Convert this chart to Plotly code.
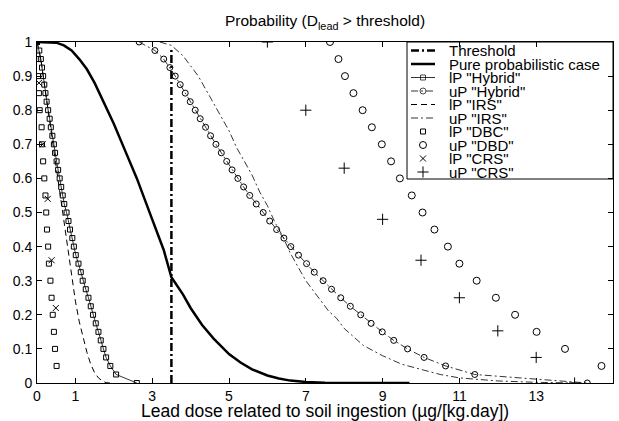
import plotly.graph_objects as go

# ---------------- data ----------------
threshold_x = [3.5, 3.5]
threshold_y = [0.0, 0.98]

pure_x = [0.0, 0.3, 0.5, 0.7, 0.9, 1.1, 1.3, 1.5, 1.8, 2.0, 2.3, 2.6, 3.0, 3.3, 3.5, 3.8, 4.0, 4.3, 4.6, 5.0, 5.3, 5.6, 6.0, 6.3, 6.6, 7.0, 7.5, 8.0, 9.0, 9.7]
pure_y = [1.0, 1.0, 0.998, 0.99, 0.975, 0.95, 0.92, 0.88, 0.81, 0.76, 0.68, 0.60, 0.48, 0.39, 0.31, 0.26, 0.22, 0.17, 0.13, 0.085, 0.06, 0.04, 0.022, 0.013, 0.007, 0.003, 0.001, 0.0005, 0.0, 0.0]

lp_hybrid_x = [0.00, 0.06, 0.10, 0.13, 0.16, 0.19, 0.22, 0.25, 0.29, 0.33, 0.36, 0.40, 0.44, 0.47, 0.51, 0.55, 0.59, 0.63, 0.67, 0.71, 0.77, 0.82, 0.86, 0.92, 0.96, 1.01, 1.08, 1.14, 1.19, 1.27, 1.34, 1.40, 1.46, 1.53, 1.60, 1.66, 1.73, 1.80, 1.91, 2.06, 2.60]
lp_hybrid_y = [1.000, 0.975, 0.950, 0.925, 0.900, 0.875, 0.850, 0.825, 0.800, 0.775, 0.750, 0.725, 0.700, 0.675, 0.650, 0.625, 0.600, 0.575, 0.550, 0.525, 0.500, 0.475, 0.450, 0.425, 0.400, 0.375, 0.350, 0.325, 0.300, 0.275, 0.250, 0.225, 0.200, 0.175, 0.150, 0.125, 0.100, 0.075, 0.050, 0.025, 0.000]

up_hybrid_x = [2.66, 3.07, 3.30, 3.46, 3.60, 3.73, 3.86, 3.99, 4.12, 4.25, 4.39, 4.52, 4.66, 4.80, 4.94, 5.08, 5.23, 5.38, 5.54, 5.71, 5.89, 6.06, 6.24, 6.43, 6.61, 6.81, 7.02, 7.22, 7.45, 7.67, 7.91, 8.16, 8.43, 8.70, 8.99, 9.29, 9.65, 10.08, 10.64, 11.40, 14.33]
up_hybrid_y = [1.000, 0.975, 0.950, 0.925, 0.900, 0.875, 0.850, 0.825, 0.800, 0.775, 0.750, 0.725, 0.700, 0.675, 0.650, 0.625, 0.600, 0.575, 0.550, 0.525, 0.500, 0.475, 0.450, 0.425, 0.400, 0.375, 0.350, 0.325, 0.300, 0.275, 0.250, 0.225, 0.200, 0.175, 0.150, 0.125, 0.100, 0.075, 0.050, 0.025, 0.000]

lp_irs_x = [0.0, 0.1, 0.2, 0.3, 0.4, 0.5, 0.6, 0.7, 0.8, 0.9, 1.0, 1.1, 1.2, 1.3, 1.4, 1.5, 1.6, 1.7, 1.8, 1.9]
lp_irs_y = [1.0, 0.95, 0.87, 0.79, 0.71, 0.63, 0.56, 0.48, 0.39, 0.31, 0.24, 0.18, 0.13, 0.09, 0.055, 0.03, 0.015, 0.006, 0.001, 0.0]

up_irs_x = [3.2, 3.5, 3.8, 4.0, 4.2, 4.4, 4.6, 4.8, 5.0, 5.2, 5.4, 5.6, 5.8, 6.0, 6.2, 6.4, 6.6, 6.8, 7.0, 7.2, 7.4, 7.6, 7.8, 8.0, 8.5, 9.0, 9.5, 10.0, 10.5, 11.0, 12.0, 13.0, 14.0]
up_irs_y = [1.0, 0.99, 0.96, 0.93, 0.90, 0.86, 0.82, 0.78, 0.74, 0.69, 0.65, 0.61, 0.56, 0.52, 0.47, 0.43, 0.38, 0.34, 0.30, 0.27, 0.24, 0.21, 0.19, 0.16, 0.11, 0.08, 0.055, 0.04, 0.025, 0.015, 0.006, 0.002, 0.0]

lp_dbc_x = [0.00, 0.02, 0.03, 0.05, 0.07, 0.12, 0.13, 0.16, 0.19, 0.22, 0.24, 0.26, 0.29, 0.31, 0.35, 0.38, 0.41, 0.44, 0.47, 0.51]
lp_dbc_y = [1.00, 0.95, 0.90, 0.85, 0.80, 0.75, 0.70, 0.65, 0.60, 0.55, 0.50, 0.45, 0.40, 0.35, 0.30, 0.25, 0.20, 0.15, 0.10, 0.05]

up_dbd_x = [7.63, 7.85, 8.02, 8.24, 8.48, 8.72, 8.98, 9.22, 9.45, 9.76, 10.04, 10.35, 10.70, 11.00, 11.45, 11.95, 12.45, 13.01, 13.75, 14.70]
up_dbd_y = [1.00, 0.95, 0.90, 0.85, 0.80, 0.75, 0.70, 0.65, 0.60, 0.55, 0.50, 0.45, 0.40, 0.35, 0.30, 0.25, 0.20, 0.15, 0.10, 0.05]

lp_crs_x = [0.00, 0.05, 0.15, 0.28, 0.38, 0.49]
lp_crs_y = [1.00, 0.88, 0.70, 0.54, 0.36, 0.22]

up_crs_x = [6.0, 7.0, 8.0, 9.0, 10.0, 11.0, 12.0, 13.0, 14.0]
up_crs_y = [1.0, 0.80, 0.63, 0.48, 0.36, 0.25, 0.153, 0.075, 0.0]

x_ticks = [0, 1, 3, 5, 7, 9, 11, 13, 15]
y_ticks = [0, 0.1, 0.2, 0.3, 0.4, 0.5, 0.6, 0.7, 0.8, 0.9, 1]

legend_names = ['Threshold', 'Pure probabilistic case', 'lP "Hybrid"', 'uP "Hybrid"',
                'lP "IRS"', 'uP "IRS"', 'lP "DBC"', 'uP "DBD"', 'lP "CRS"', 'uP "CRS"']

title_text = 'Probability (D<sub>lead</sub> > threshold)'
xlabel_text = 'Lead dose related to soil ingestion (µg/[kg.day])'

# ---------------- styles ----------------
K = 'black'
FONT = 'Liberation Sans, Arial, sans-serif'
DASHDOT = '7px,3px,2px,3px'
styles = [
    dict(mode='lines', line=dict(color=K, width=2.5, dash='8px,3px,2px,3px')),
    dict(mode='lines', line=dict(color=K, width=2.5)),
    dict(mode='lines+markers', line=dict(color=K, width=0.8),
         marker=dict(symbol='square-open', size=5, color=K, line=dict(width=1))),
    dict(mode='lines+markers', line=dict(color=K, width=0.8, dash=DASHDOT),
         marker=dict(symbol='circle-open', size=6, color=K, line=dict(width=1))),
    dict(mode='lines', line=dict(color=K, width=1, dash='6px,4px')),
    dict(mode='lines', line=dict(color=K, width=0.8, dash=DASHDOT)),
    dict(mode='markers', marker=dict(symbol='square-open', size=5, color=K, line=dict(width=1))),
    dict(mode='markers', marker=dict(symbol='circle-open', size=7, color=K, line=dict(width=1))),
    dict(mode='markers', marker=dict(symbol='x-thin-open', size=6, color=K, line=dict(width=1))),
    dict(mode='markers', marker=dict(symbol='cross-thin-open', size=8, color=K, line=dict(width=1))),
]
series = [(threshold_x, threshold_y), (pure_x, pure_y), (lp_hybrid_x, lp_hybrid_y),
          (up_hybrid_x, up_hybrid_y), (lp_irs_x, lp_irs_y), (up_irs_x, up_irs_y),
          (lp_dbc_x, lp_dbc_y), (up_dbd_x, up_dbd_y), (lp_crs_x, lp_crs_y), (up_crs_x, up_crs_y)]

W, H = 619, 421
ML, MR, MT, MB = 37, 6, 42, 38
PW, PH = W - ML - MR, H - MT - MB

def fx(px):
    return (px - ML) / PW

def fy(py):
    return (H - MB - py) / PH

fig = go.Figure()
for (xs, ys), name, st in zip(series, legend_names, styles):
    fig.add_trace(go.Scatter(x=xs, y=ys, name=name, showlegend=False, **st))

# ---------------- custom legend ----------------
box_l, box_b = 407, 179
fig.add_shape(type='rect', xref='paper', yref='paper', x0=fx(box_l), x1=1.0,
              y0=fy(box_b), y1=1.0, line=dict(color=K, width=1), fillcolor='white', layer='below')
for i, (name, st) in enumerate(zip(legend_names, styles)):
    ypx = 50.5 + 13.5 * i
    yy = fy(ypx)
    smode = st['mode']
    if 'lines' in smode:
        if 'markers' in smode:
            mk = dict(st['marker'])
            mk['size'] = [0, st['marker']['size'], 0]
        else:
            mk = None
        fig.add_trace(go.Scatter(x=[fx(411), fx(423), fx(435)], y=[yy, yy, yy], mode=smode,
                                 line=st['line'], marker=mk,
                                 xaxis='x2', yaxis='y2', showlegend=False, hoverinfo='skip'))
    else:
        fig.add_trace(go.Scatter(x=[fx(423)], y=[yy], mode='markers', marker=st['marker'],
                                 xaxis='x2', yaxis='y2', showlegend=False, hoverinfo='skip'))
    fig.add_annotation(x=fx(447), y=yy, xref='paper', yref='paper', text=name,
                       showarrow=False, xanchor='left', yanchor='middle',
                       font=dict(size=15, color=K, family=FONT))

# x-axis label placed just under the tick labels
fig.add_annotation(x=0.5, y=fy(411), xref='paper', yref='paper', text=xlabel_text,
                   showarrow=False, xanchor='center', yanchor='middle',
                   font=dict(size=17.5, color=K, family=FONT))

axis_common = dict(showline=True, linecolor=K, linewidth=1, mirror='ticks', ticks='inside',
                   ticklen=5, tickcolor=K, showgrid=False, zeroline=False,
                   tickfont=dict(size=14, color=K, family=FONT))

fig.update_layout(
    width=W, height=H,
    margin=dict(l=ML, r=MR, t=MT, b=MB),
    paper_bgcolor='white', plot_bgcolor='white',
    font=dict(family=FONT, color=K),
    title=dict(text=title_text, x=0.5, xref='paper',
               y=1 - 21 / H, yref='container', yanchor='middle', xanchor='center',
               font=dict(size=15.5, color=K)),
    xaxis=dict(range=[0, 15], tickvals=x_ticks, ticktext=[str(v) for v in x_ticks],
               ticklabelstandoff=0, **axis_common),
    yaxis=dict(range=[0, 1], tickvals=y_ticks, ticktext=[('%g' % v) for v in y_ticks],
               ticklabelstandoff=1, **axis_common),
    xaxis2=dict(range=[0, 1], overlaying='x', visible=False, fixedrange=True),
    yaxis2=dict(range=[0, 1], overlaying='y', visible=False, fixedrange=True),
)

# remove the default 8px page margin so the 619x421 figure fills the window exactly
fig.write_html('out.html', config={'displayModeBar': False},
               post_script="document.body.style.margin='0';document.body.style.overflow='hidden';")
